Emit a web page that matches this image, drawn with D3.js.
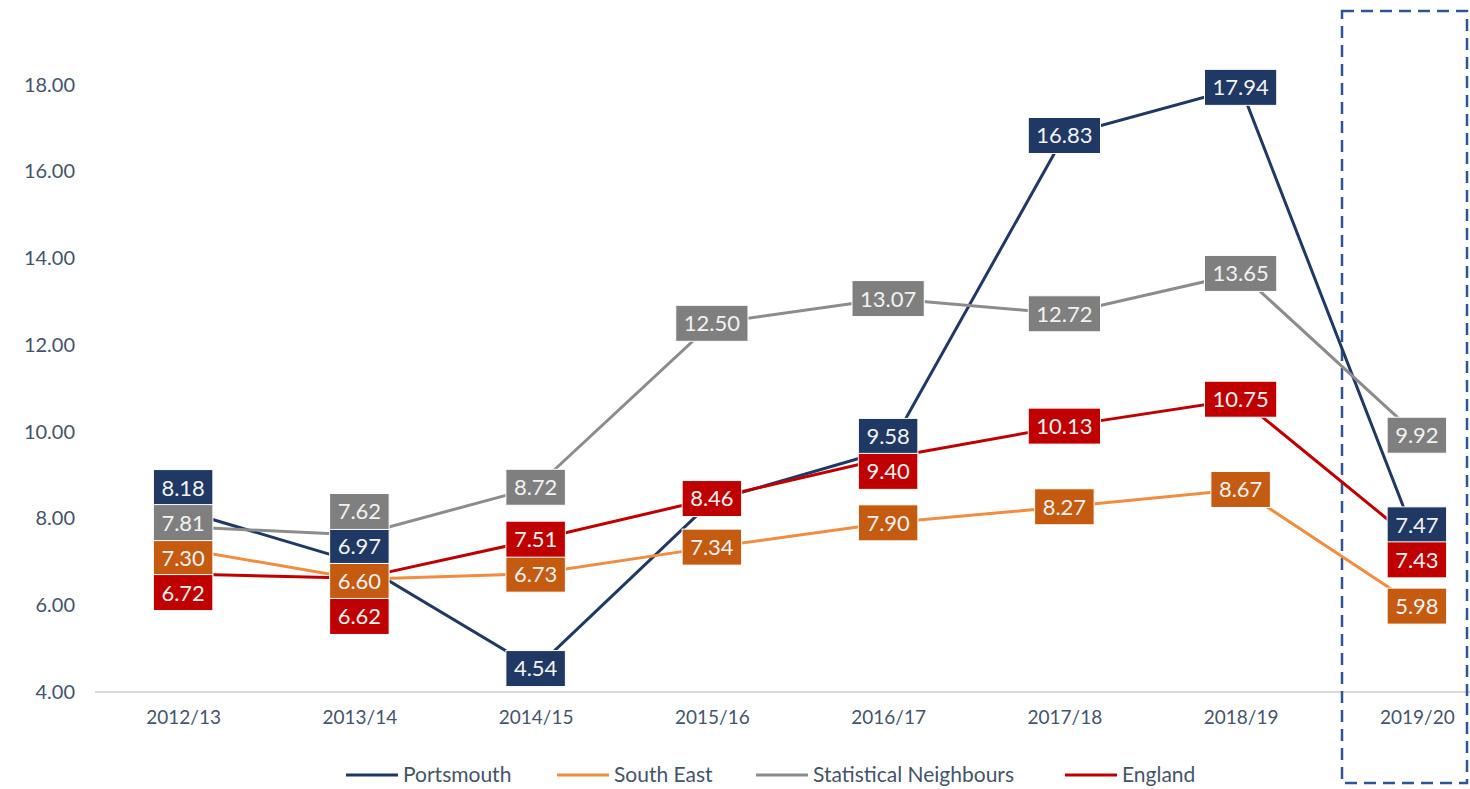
<!DOCTYPE html>
<html>
<head>
<meta charset="utf-8">
<script src="https://cdn.jsdelivr.net/npm/d3@7"></script>
<style>
    body { margin: 0; background: #fff; }
    svg { display: block; font-family: Lato, 'Open Sans', sans-serif; }
</style>
</head>
<body>
<div id="chart"></div>
<script>
const categories = ['2012/13', '2013/14', '2014/15', '2015/16', '2016/17', '2017/18', '2018/19', '2019/20']

const portsmouth = [8.18, 6.97, 4.54, 8.40, 9.58, 16.83, 17.94, 7.47]
const southEast = [7.30, 6.60, 6.73, 7.34, 7.90, 8.27, 8.67, 5.98]
const statNeighbours = [7.81, 7.62, 8.72, 12.50, 13.07, 12.72, 13.65, 9.92]
const england = [6.72, 6.62, 7.51, 8.46, 9.40, 10.13, 10.75, 7.43]

const yTicks = [4, 6, 8, 10, 12, 14, 16, 18]

// label hidden behind England's in the original
const hiddenLabels = ['Portsmouth|2015/16']

const series = [
    {name: 'Portsmouth', values: portsmouth, line: '#203864', box: '#1F3864'},
    {name: 'South East', values: southEast, line: '#F28C3E', box: '#C55A11'},
    {name: 'Statistical Neighbours', values: statNeighbours, line: '#8C8C8C', box: '#7F7F7F'},
    {name: 'England', values: england, line: '#C00000', box: '#C00000'}
]

const width = 1470, height = 789
const textColor = '#44546A'

const svg = d3.select('#chart').append('svg')
    .attr('width', width)
    .attr('height', height)

const x = d3.scalePoint()
    .domain(categories)
    .range([95, 1505])
    .padding(0.5)

const y = d3.scaleLinear()
    .domain([4, 20])
    .range([692, -2])

//----------------------------------------------------------
// axes
svg.append('line')
    .attr('x1', 95)
    .attr('x2', width)
    .attr('y1', y(4))
    .attr('y2', y(4))
    .style('stroke', '#D9D9D9')
    .style('stroke-width', 2)

const yAxis = svg.append('g')
    .attr('transform', 'translate(75,0)')
    .call(d3.axisLeft(y).tickValues(yTicks).tickSize(0).tickPadding(0).tickFormat(d3.format('.2f')))
yAxis.select('.domain').remove()
yAxis.selectAll('text')
    .style('font-family', 'Lato, sans-serif')
    .style('font-size', '20px')
    .style('fill', textColor)

const xAxis = svg.append('g')
    .attr('transform', `translate(0,${y(4)})`)
    .call(d3.axisBottom(x).tickSize(0).tickPadding(19))
xAxis.select('.domain').remove()
xAxis.selectAll('text')
    .style('font-family', 'Lato, sans-serif')
    .style('font-size', '19px')
    .style('fill', textColor)

//----------------------------------------------------------
// dashed highlight box round the last year
svg.append('rect')
    .attr('x', 1342)
    .attr('y', 11)
    .attr('width', 125)
    .attr('height', 772)
    .style('fill', 'none')
    .style('stroke', '#2F5597')
    .style('stroke-width', 2.5)
    .style('stroke-dasharray', '12,7')

//----------------------------------------------------------
// lines
const line = d3.line()
    .x((d, i) => x(categories[i]))
    .y(d => y(d))

svg.selectAll('path.series')
    .data(series)
    .enter()
        .append('path')
        .attr('class', 'series')
        .attr('d', d => line(d.values))
        .style('fill', 'none')
        .style('stroke', d => d.line)
        .style('stroke-width', 3)

//----------------------------------------------------------
// data labels, stacked per year so they don't overlap
const boxH = 36, step = 35
const labels = []

categories.forEach((cat, ci) => {
    const items = series
        .map((s, si) => ({s, si, v: s.values[ci], cat}))
        .filter(d => !hiddenLabels.includes(d.s.name + '|' + cat))
        .sort((a, b) => Math.abs(a.v - b.v) < 0.05 ? a.si - b.si : b.v - a.v)

    let clusters = items.map(d => ({members: [d], c: y(d.v)}))
    let moved = true
    while (moved) {
        moved = false
        for (let k = 0; k < clusters.length - 1; k++) {
            const a = clusters[k], b = clusters[k + 1]
            const aBottom = a.c + a.members.length * step / 2
            const bTop = b.c - b.members.length * step / 2
            if (aBottom > bTop) {
                const members = a.members.concat(b.members)
                clusters.splice(k, 2, {members, c: d3.mean(members, m => y(m.v))})
                moved = true
                break
            }
        }
    }
    clusters.forEach(c => {
        const n = c.members.length
        c.members.forEach((m, k) => {
            m.ly = c.c + (k - (n - 1) / 2) * step
            labels.push(m)
        })
    })
})

labels.sort((a, b) => a.si - b.si)

const labelG = svg.selectAll('g.label')
    .data(labels)
    .enter()
        .append('g')
        .attr('class', 'label')
        .attr('transform', d => `translate(${x(d.cat)},${d.ly})`)

const rects = labelG.append('rect')
const texts = labelG.append('text')
    .attr('text-anchor', 'middle')
    .attr('dy', '0.36em')
    .style('font-size', '22px')
    .style('fill', '#F2F2F2')
    .text(d => d3.format('.2f')(d.v))

texts.each(function(d) {
    d.tw = this.getComputedTextLength()
})

rects
    .attr('x', d => -d.tw / 2 - 8)
    .attr('y', -boxH / 2)
    .attr('width', d => d.tw + 16)
    .attr('height', boxH)
    .style('fill', d => d.s.box)
    .style('stroke', '#fff')
    .style('stroke-width', 1)

//----------------------------------------------------------
// legend
const legendPos = [346, 557, 756, 1065]

const legend = svg.selectAll('g.legend')
    .data(series)
    .enter()
        .append('g')
        .attr('class', 'legend')
        .attr('transform', (d, i) => `translate(${legendPos[i]},775)`)

legend.append('line')
    .attr('x1', 0)
    .attr('x2', 52)
    .style('stroke', d => d.line)
    .style('stroke-width', 3)

legend.append('text')
    .attr('x', 57)
    .attr('dy', '0.35em')
    .style('font-size', '21px')
    .style('fill', textColor)
    .text(d => d.name)
</script>
</body>
</html>
